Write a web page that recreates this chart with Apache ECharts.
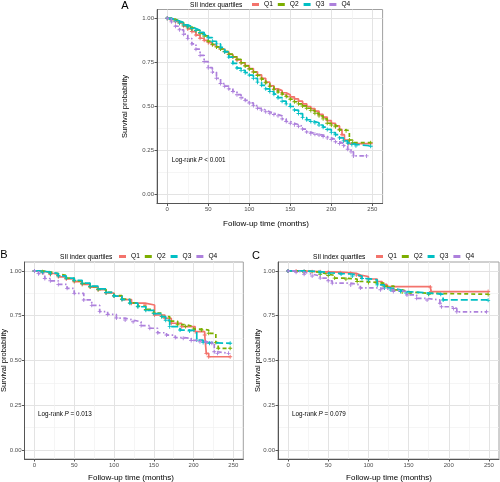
<!DOCTYPE html>
<html><head><meta charset="utf-8">
<script src="https://cdn.jsdelivr.net/npm/echarts@6/dist/echarts.min.js"></script>
<style>html,body{margin:0;padding:0;background:#fff}#c{width:500px;height:482px}</style>
</head><body><div id="c"></div>
<script>
const groups = ['Q1','Q2','Q3','Q4'];
const colors = ['#F3736C','#7CAE00','#00BFC4','#AD80DC'];
const xTicks = [0,50,100,150,200,250];
const xMinor = [25,75,125,175,225];
const yTicks = [0,0.25,0.5,0.75,1];
const yMinor = [0.125,0.375,0.625,0.875];
const panelLetters = ['A','B','C'];
const pValues = ['< 0.001','= 0.013','= 0.079'];

// Panel A  [time (months), survival]
const aQ1 = [[0,1],[5,0.99],[10,0.98],[15,0.97],[20,0.955],[25,0.94],[30,0.925],[35,0.905],[40,0.887],[45,0.875],[50,0.862],[55,0.85],[60,0.838],[65,0.826],[70,0.81],[75,0.795],[80,0.78],[85,0.764],[90,0.748],[95,0.732],[100,0.715],[105,0.697],[110,0.68],[115,0.66],[120,0.638],[125,0.617],[130,0.6],[135,0.59],[140,0.578],[145,0.567],[150,0.555],[155,0.543],[160,0.53],[165,0.515],[170,0.5],[175,0.488],[180,0.474],[185,0.455],[190,0.44],[195,0.42],[200,0.405],[205,0.39],[210,0.37],[213,0.34],[216,0.31],[221,0.29],[248,0.29]];
const aQ2 = [[0,1],[5,0.995],[10,0.985],[15,0.975],[20,0.962],[25,0.95],[30,0.94],[35,0.93],[40,0.915],[45,0.9],[50,0.87],[55,0.852],[60,0.838],[65,0.826],[70,0.812],[75,0.797],[80,0.782],[85,0.768],[90,0.748],[95,0.73],[100,0.713],[105,0.695],[110,0.676],[115,0.655],[120,0.635],[125,0.614],[130,0.597],[135,0.582],[140,0.57],[145,0.556],[150,0.541],[155,0.527],[160,0.515],[165,0.503],[170,0.49],[175,0.478],[180,0.462],[185,0.447],[190,0.43],[195,0.405],[200,0.395],[205,0.385],[210,0.367],[218,0.363],[222,0.31],[226,0.295],[248,0.295]];
const aQ3 = [[0,1],[5,0.993],[10,0.985],[15,0.975],[20,0.963],[25,0.952],[30,0.942],[35,0.932],[40,0.92],[45,0.908],[50,0.89],[55,0.87],[60,0.855],[65,0.835],[70,0.81],[75,0.78],[80,0.745],[85,0.718],[90,0.705],[95,0.692],[100,0.678],[105,0.66],[110,0.638],[115,0.62],[120,0.6],[125,0.585],[130,0.57],[135,0.55],[140,0.53],[145,0.515],[150,0.5],[155,0.48],[160,0.46],[165,0.437],[170,0.425],[175,0.415],[180,0.408],[185,0.395],[190,0.383],[195,0.37],[200,0.352],[205,0.34],[210,0.322],[215,0.305],[220,0.293],[225,0.285],[230,0.277],[248,0.275]];
const aQ4 = [[0,1],[5,0.98],[10,0.955],[15,0.935],[20,0.91],[25,0.885],[30,0.855],[35,0.825],[40,0.79],[45,0.755],[50,0.72],[55,0.695],[60,0.66],[65,0.63],[70,0.615],[75,0.6],[80,0.585],[85,0.567],[90,0.55],[95,0.535],[100,0.52],[105,0.505],[110,0.49],[115,0.48],[120,0.47],[125,0.462],[130,0.455],[135,0.447],[140,0.43],[145,0.415],[150,0.405],[155,0.397],[160,0.388],[165,0.372],[170,0.355],[175,0.346],[180,0.342],[185,0.338],[190,0.33],[195,0.322],[200,0.313],[205,0.3],[210,0.29],[215,0.278],[220,0.258],[224,0.243],[227,0.22],[243,0.22]];

// Panel B
const bQ1 = [[0,1],[10,0.99],[20,0.98],[30,0.967],[40,0.955],[50,0.94],[60,0.925],[70,0.91],[80,0.895],[90,0.877],[100,0.86],[110,0.84],[122,0.82],[139,0.81],[151,0.754],[164,0.736],[172,0.708],[185,0.689],[202,0.661],[214,0.642],[216,0.54],[219,0.521],[246,0.521]];
const bQ2 = [[0,1],[10,0.995],[20,0.985],[30,0.975],[40,0.96],[50,0.945],[60,0.93],[70,0.912],[80,0.897],[90,0.88],[100,0.862],[110,0.843],[120,0.822],[130,0.803],[140,0.785],[150,0.765],[160,0.745],[170,0.72],[180,0.7],[190,0.69],[200,0.675],[210,0.67],[219,0.652],[228,0.6],[231,0.568],[246,0.568]];
const bQ3 = [[0,1],[10,0.993],[20,0.985],[30,0.973],[40,0.96],[50,0.948],[60,0.932],[70,0.915],[80,0.9],[90,0.88],[100,0.86],[110,0.84],[120,0.82],[130,0.8],[140,0.78],[150,0.762],[160,0.745],[165,0.725],[170,0.689],[183,0.67],[195,0.665],[204,0.614],[212,0.6],[220,0.596],[246,0.596]];
const bQ4 = [[0,1],[5,0.985],[13,0.958],[20,0.945],[30,0.925],[41,0.903],[50,0.875],[62,0.838],[72,0.808],[82,0.773],[92,0.757],[103,0.737],[114,0.726],[124,0.716],[134,0.695],[145,0.68],[155,0.655],[166,0.642],[177,0.628],[187,0.624],[197,0.612],[208,0.605],[216,0.6],[223,0.596],[226,0.549],[230,0.54],[244,0.54]];

// Panel C
const cQ1 = [[0,1],[10,1],[20,0.998],[30,0.996],[40,0.995],[50,0.993],[65,0.99],[78,0.987],[85,0.977],[90,0.969],[100,0.955],[111,0.941],[117,0.925],[123,0.913],[177,0.91],[178,0.885],[249,0.885]];
const cQ2 = [[0,1],[20,0.993],[40,0.982],[50,0.975],[58,0.96],[72,0.955],[86,0.941],[100,0.935],[111,0.932],[120,0.915],[132,0.894],[142,0.883],[152,0.875],[175,0.87],[249,0.868]];
const cQ3 = [[0,1],[20,0.997],[40,0.99],[51,0.985],[66,0.983],[80,0.972],[92,0.958],[100,0.95],[111,0.922],[120,0.905],[128,0.894],[140,0.885],[147,0.877],[175,0.872],[190,0.87],[193,0.838],[249,0.836]];
const cQ4 = [[0,1],[10,0.993],[20,0.982],[30,0.972],[40,0.96],[50,0.945],[55,0.932],[78,0.922],[90,0.905],[115,0.895],[131,0.885],[148,0.866],[160,0.847],[173,0.838],[189,0.82],[191,0.8],[206,0.79],[210,0.772],[247,0.772]];

const panelData = [[aQ1,aQ2,aQ3,aQ4],[bQ1,bQ2,bQ3,bQ4],[cQ1,cQ2,cQ3,cQ4]];
const dashes = ['solid',[4,3],[7,3],[1.5,2.5,4.5,2.5]];
const font = 'Liberation Sans, Arial, sans-serif';

const grids = [
  {left:157, top:9.5, width:225.6, height:194},
  {left:24.5, top:262, width:218.8, height:197},
  {left:278, top:262, width:221, height:197}
];
const legendPos = [{title:[190,5], key:[252,1]},{title:[60,257], key:[119,253]},{title:[313,257], key:[376,253]}];
const letterPos = [[125,5.5],[4,255],[256,256]];
const yTitlePos = [[125,106.5],[4,360.5],[258,360.5]];
const xTitlePos = [[266,224],[131,477.5],[389,477.5]];
const pPos = [[171.7,160],[38,414],[292,414]];

const plus = 'path://M-0.9,-4H0.9V-0.9H4V0.9H0.9V4H-0.9V0.9H-4V-0.9H-0.9Z';

const xAxes=[], yAxes=[], series=[], legends=[], graphics=[];
grids.forEach((g,gi)=>{
  g.show = true; g.borderColor = '#a0a0a0'; g.borderWidth = 1; g.containLabel = false;
  xAxes.push({gridIndex:gi, type:'value', min:-12.5, max:262.5, position:'bottom',
    axisLine:{show:true, onZero:false, lineStyle:{color:'#555', width:1}},
    axisTick:{show:true, length:2.5, customValues:xTicks, lineStyle:{color:'#555'}},
    axisLabel:{customValues:xTicks, margin:3, fontSize:6, color:'#4d4d4d', fontFamily:font},
    splitLine:{show:true, lineStyle:{color:'#e3e3e3', width:1}}});
  xAxes.push({gridIndex:gi, type:'value', min:-12.5, max:262.5, position:'top',
    axisLine:{show:false}, axisTick:{show:false, customValues:xMinor}, axisLabel:{show:false, customValues:xMinor},
    splitLine:{show:true, lineStyle:{color:'#f0f0f0', width:0.7}}});
  yAxes.push({gridIndex:gi, type:'value', min:-0.05, max:1.05, position:'left',
    axisLine:{show:true, onZero:false, lineStyle:{color:'#555', width:1}},
    axisTick:{show:true, length:2.5, customValues:yTicks, lineStyle:{color:'#555'}},
    axisLabel:{customValues:yTicks, margin:3, fontSize:6, color:'#4d4d4d', fontFamily:font, formatter:v=>v.toFixed(2)},
    splitLine:{show:true, lineStyle:{color:'#e3e3e3', width:1}}});
  yAxes.push({gridIndex:gi, type:'value', min:-0.05, max:1.05, position:'right',
    axisLine:{show:false}, axisTick:{show:false, customValues:yMinor}, axisLabel:{show:false, customValues:yMinor},
    splitLine:{show:true, lineStyle:{color:'#f0f0f0', width:0.7}}});
  panelData[gi].forEach((d,k)=>{
    series.push({name:groups[k], type:'line', step:'end', data:d,
      xAxisIndex:gi*2, yAxisIndex:gi*2, showSymbol:true, symbol:plus, symbolSize:4,
      itemStyle:{color:colors[k]}, lineStyle:{color:colors[k], width:1.7, type:dashes[k]},
      animation:false, silent:true, z:2+k});
  });
  const lp = legendPos[gi];
  legends.push({data:groups, left:lp.key[0], top:lp.key[1], orient:'horizontal', padding:0,
    itemWidth:7, itemHeight:3, itemGap:5, icon:'rect', selectedMode:false,
    textStyle:{fontSize:6.6, fontFamily:font, color:'#000'}});
  graphics.push({type:'text', x:lp.title[0], y:lp.title[1], style:{text:'SII index quartiles', fontSize:6.6, fontFamily:font, fill:'#000', align:'left', verticalAlign:'middle'}});
  graphics.push({type:'text', x:letterPos[gi][0], y:letterPos[gi][1], style:{text:panelLetters[gi], fontSize:11, fontFamily:font, fill:'#000', align:'center', verticalAlign:'middle'}});
  graphics.push({type:'text', x:yTitlePos[gi][0], y:yTitlePos[gi][1], rotation:Math.PI/2, style:{text:'Survival probability', fontSize:7.5, fontFamily:font, fill:'#000', align:'center', verticalAlign:'middle'}});
  graphics.push({type:'text', x:xTitlePos[gi][0], y:xTitlePos[gi][1], style:{text:'Follow-up time (months)', fontSize:8, fontFamily:font, fill:'#000', align:'center', verticalAlign:'middle'}});
  graphics.push({type:'text', x:pPos[gi][0], y:pPos[gi][1], style:{text:'Log-rank {i|P} '+pValues[gi], fontSize:6.3, fontFamily:font, fill:'#000', align:'left', verticalAlign:'middle', rich:{i:{fontStyle:'italic', fontSize:6.3, fontFamily:font, fill:'#000'}}}});
});

const chart = echarts.init(document.getElementById('c'), null, {renderer:'canvas'});
chart.setOption({backgroundColor:'#fff', animation:false, grid:grids, xAxis:xAxes, yAxis:yAxes, series:series, legend:legends, graphic:graphics});
</script></body></html>
